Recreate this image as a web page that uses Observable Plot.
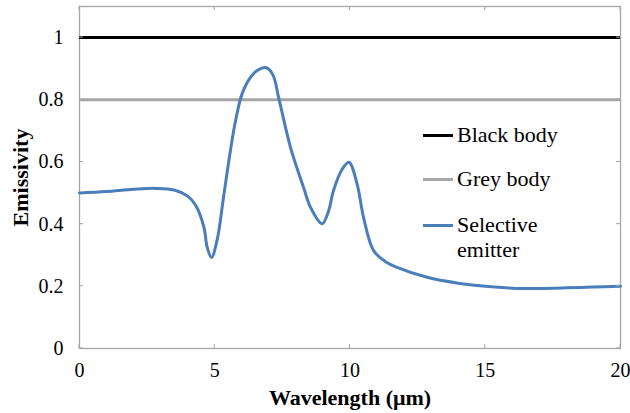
<!DOCTYPE html>
<html><head><meta charset="utf-8">
<script src="https://cdn.jsdelivr.net/npm/d3@7"></script>
<script src="https://cdn.jsdelivr.net/npm/@observablehq/plot@0.6"></script>
<style>
body{margin:0;background:#fff;}
#wrap{position:relative;width:630px;height:413px;font-family:'Liberation Serif','DejaVu Serif',serif;}
#wrap svg text{font-family:'Liberation Serif','DejaVu Serif',serif;}
.leg{position:absolute;left:423px;font-size:22px;color:#000;line-height:25px;font-family:'Liberation Serif','DejaVu Serif',serif;}
.leg span.ln{display:inline-block;width:30px;height:3px;vertical-align:top;margin-top:12px;margin-right:4px;}
.leg .t{display:inline-block;vertical-align:top;}
</style></head><body>
<div id="wrap"></div>
<script>
const wavelength = [0, 1, 2, 2.8, 3.5, 4.0, 4.3, 4.6, 4.72, 4.88, 5.09, 5.33, 5.58, 5.77, 6.01, 6.32, 6.57, 6.91, 7.15, 7.36, 7.8, 8.28, 8.54, 8.97, 9.2, 9.39, 9.7, 9.96, 10.26, 10.5, 10.87, 11.3, 11.74, 12.85, 14, 15, 16, 17, 18, 19, 20];
const selective = [0.5, 0.505, 0.512, 0.515, 0.51, 0.49, 0.46, 0.39, 0.326, 0.293, 0.35, 0.49, 0.637, 0.733, 0.819, 0.872, 0.894, 0.903, 0.88, 0.808, 0.647, 0.519, 0.454, 0.401, 0.44, 0.508, 0.575, 0.599, 0.53, 0.422, 0.315, 0.28, 0.261, 0.229, 0.21, 0.2, 0.194, 0.193, 0.195, 0.198, 0.2];
const blackBody = 1;
const greyBody = 0.8;
const xTicks = [0, 5, 10, 15, 20];
const yTicks = [0, 0.2, 0.4, 0.6, 0.8, 1];
const seriesNames = ["Black body", "Grey body", "Selective emitter"];
const colors = ["#000000", "#a6a6a6", "#4a7ebb"];

const data = wavelength.map((w, i) => ({w, e: selective[i]}));
const frameColor = "#a6a6a6";

const chart = Plot.plot({
  width: 630, height: 413,
  marginLeft: 79, marginRight: 10, marginTop: 6, marginBottom: 65,
  style: {fontFamily: "Liberation Serif", fontSize: "20px", color: "#000", background: "#fff"},
  x: {domain: [0, 20], ticks: xTicks},
  y: {domain: [0, 1.1], ticks: yTicks},
  marks: [
    Plot.frame({stroke: frameColor, strokeWidth: 1.3}),
    Plot.axisX({ticks: xTicks, tickSize: 0, tickPadding: 14, label: null, tickFormat: d => d}),
    Plot.axisY({ticks: yTicks, tickSize: 0, tickPadding: 16, label: null, tickFormat: d => d}),
    Plot.ruleY([blackBody], {stroke: colors[0], strokeWidth: 3}),
    Plot.ruleY([greyBody], {stroke: colors[1], strokeWidth: 3}),
    Plot.line(data, {x: "w", y: "e", stroke: colors[2], strokeWidth: 3, curve: "catmull-rom"}),
    Plot.text(["Wavelength (\u03bcm)"], {frameAnchor: "bottom", dy: 49, lineAnchor: "middle", textAnchor: "middle", fontWeight: "bold", fontSize: 22, text: d => d}),
    Plot.text(["Emissivity"], {frameAnchor: "left", dx: -59, rotate: -90, textAnchor: "middle", lineAnchor: "middle", fontWeight: "bold", fontSize: 22, text: d => d})
  ]
});
const xs = chart.scale("x"), ys = chart.scale("y");
document.getElementById("wrap").appendChild(chart);

// inward ticks on all four sides, positioned through the plot's scales
const svg = d3.select(chart);
const [x0, x1] = xs.range, [y0, y1] = ys.range;
const g = svg.append("g").attr("stroke", frameColor).attr("stroke-width", 1);
xTicks.forEach(t => {
  const px = xs.apply(t);
  g.append("line").attr("x1", px).attr("x2", px).attr("y1", y0).attr("y2", y0 - 4);
  g.append("line").attr("x1", px).attr("x2", px).attr("y1", y1).attr("y2", y1 + 4);
});
yTicks.forEach(t => {
  const py = ys.apply(t);
  g.append("line").attr("x1", x0).attr("x2", x0 + 4).attr("y1", py).attr("y2", py);
  g.append("line").attr("x1", x1).attr("x2", x1 - 4).attr("y1", py).attr("y2", py);
});

// legend
const tops = [122, 166, 212];
seriesNames.forEach((name, i) => {
  const d = document.createElement("div");
  d.className = "leg";
  d.style.top = tops[i] + "px";
  const label = name === "Selective emitter" ? "Selective<br>emitter" : name;
  d.innerHTML = `<span class="ln" style="background:${colors[i]}"></span><span class="t">${label}</span>`;
  document.getElementById("wrap").appendChild(d);
});
</script>
</body></html>
